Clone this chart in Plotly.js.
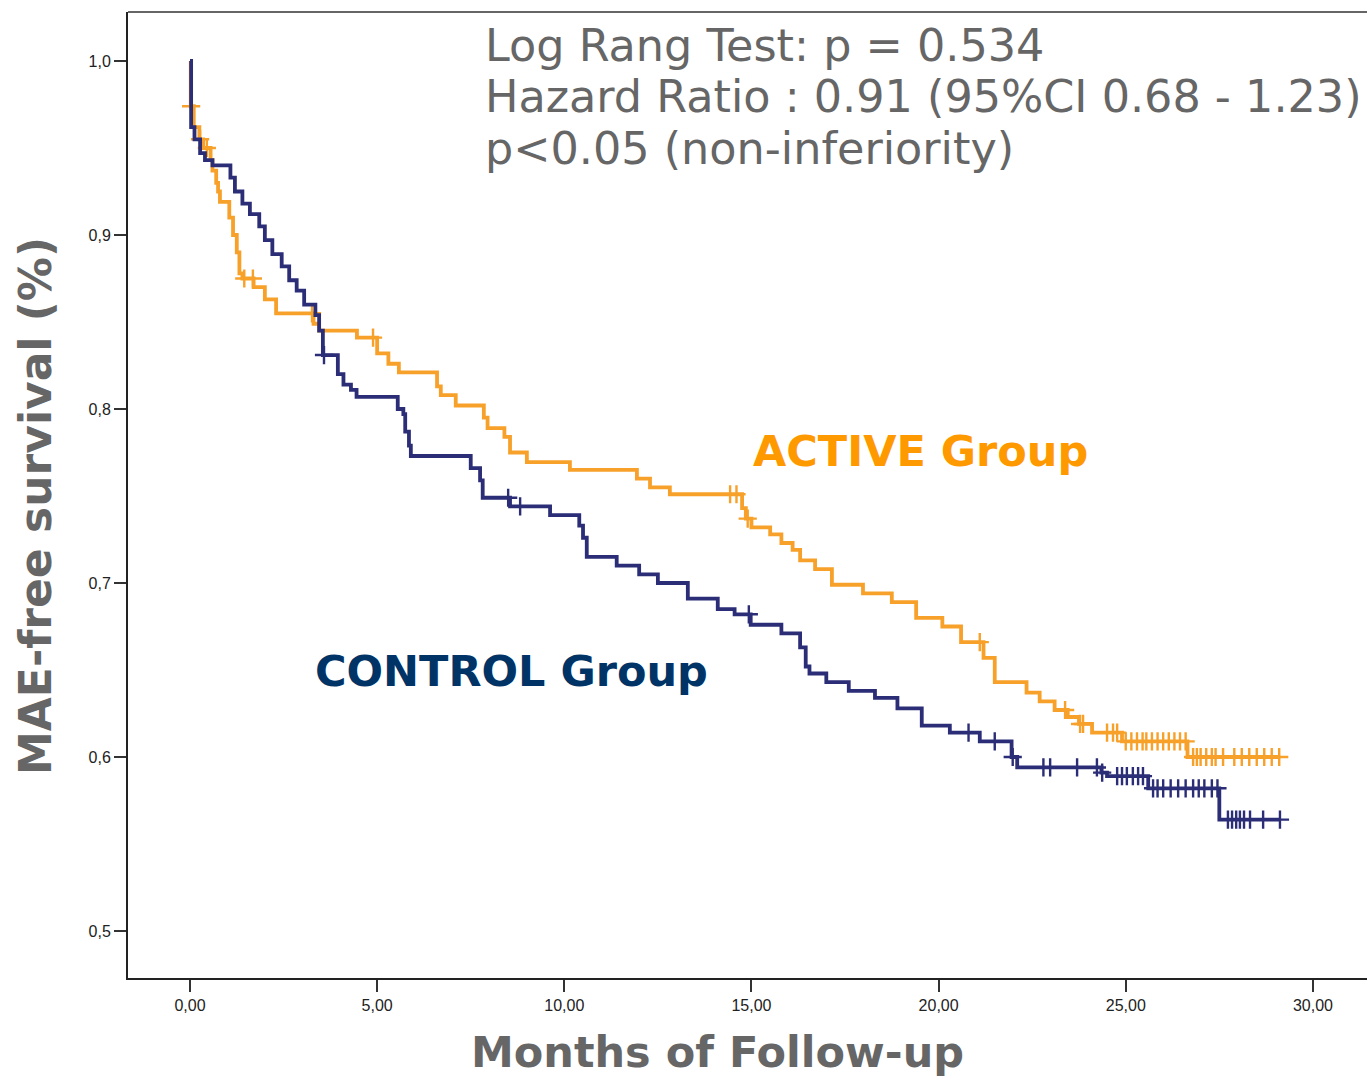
<!DOCTYPE html>
<html>
<head>
<meta charset="utf-8">
<script src="https://cdn.plot.ly/plotly-3.0.1.min.js"></script>
<style>html,body{margin:0;padding:0;background:#fff;}#chart{width:1367px;height:1078px;}</style>
</head>
<body>
<div id="chart"></div>
<script>
// Control group: step times (months) and survival after each step
const ctrlT = [0, 0.03, 0.12, 0.27, 0.4, 0.6, 1.08, 1.2, 1.4, 1.6, 1.85, 2.0, 2.2, 2.45, 2.65, 2.85, 3.05, 3.35, 3.45, 3.55, 3.95, 4.1, 4.3, 4.45, 5.55, 5.7, 5.75, 5.85, 5.9, 7.5, 7.75, 7.82, 8.55, 9.62, 10.4, 10.5, 10.6, 11.4, 12.0, 12.5, 13.3, 14.1, 14.55, 14.98, 15.8, 16.3, 16.45, 16.55, 17.0, 17.6, 18.3, 18.9, 19.55, 20.3, 21.1, 21.95, 22.1, 24.35, 24.5, 25.6, 27.5, 29.12];
const ctrlS = [1.0, 0.962, 0.955, 0.947, 0.943, 0.940, 0.933, 0.925, 0.918, 0.912, 0.905, 0.897, 0.889, 0.882, 0.874, 0.868, 0.860, 0.854, 0.845, 0.831, 0.820, 0.814, 0.811, 0.807, 0.800, 0.797, 0.787, 0.779, 0.773, 0.766, 0.759, 0.749, 0.744, 0.739, 0.733, 0.726, 0.715, 0.710, 0.705, 0.700, 0.691, 0.685, 0.682, 0.676, 0.671, 0.663, 0.652, 0.648, 0.643, 0.638, 0.634, 0.628, 0.618, 0.614, 0.609, 0.600, 0.594, 0.591, 0.589, 0.582, 0.564, 0.564];
const ctrlCens = [3.58, 8.5, 8.82, 14.93, 20.8, 21.5, 21.98, 22.8, 22.98, 23.7, 24.23, 24.37, 24.77, 24.9, 25.03, 25.19, 25.33, 25.46, 25.73, 25.85, 26.0, 26.2, 26.4, 26.6, 26.8, 26.95, 27.1, 27.3, 27.45, 27.73, 27.84, 27.95, 28.05, 28.16, 28.32, 28.67, 29.12];

// Active group
const actT = [0, 0.02, 0.1, 0.25, 0.35, 0.55, 0.6, 0.7, 0.75, 0.8, 1.05, 1.15, 1.25, 1.32, 1.4, 1.7, 2.0, 2.3, 3.3, 3.45, 4.46, 5.0, 5.3, 5.58, 6.6, 6.7, 7.1, 7.85, 7.95, 8.4, 8.55, 9.0, 10.15, 11.94, 12.29, 12.82, 14.75, 14.85, 15.0, 15.5, 15.8, 16.1, 16.3, 16.7, 17.15, 17.98, 18.75, 19.4, 20.1, 20.6, 21.2, 21.5, 22.35, 22.7, 23.1, 23.45, 23.75, 24.1, 24.9, 26.65, 29.1];
const actS = [1.0, 0.974, 0.962, 0.955, 0.950, 0.943, 0.937, 0.930, 0.925, 0.919, 0.910, 0.900, 0.890, 0.878, 0.875, 0.870, 0.863, 0.855, 0.849, 0.845, 0.841, 0.832, 0.826, 0.821, 0.813, 0.808, 0.802, 0.795, 0.789, 0.784, 0.775, 0.7695, 0.765, 0.760, 0.755, 0.751, 0.743, 0.737, 0.732, 0.728, 0.723, 0.719, 0.713, 0.708, 0.699, 0.694, 0.689, 0.680, 0.675, 0.666, 0.657, 0.643, 0.637, 0.632, 0.627, 0.623, 0.619, 0.614, 0.609, 0.600, 0.600];
const actCens = [0.03, 0.27, 0.45, 1.45, 1.68, 3.26, 4.89, 14.43, 14.6, 14.9, 21.1, 23.38, 23.78, 23.86, 24.5, 24.66, 24.77, 25.0, 25.15, 25.3, 25.45, 25.55, 25.7, 25.85, 26.0, 26.15, 26.3, 26.45, 26.6, 26.8, 26.9, 27.0, 27.15, 27.3, 27.4, 27.6, 27.9, 28.1, 28.3, 28.5, 28.7, 28.9, 29.1];

const xTickVals = [0, 5, 10, 15, 20, 25, 30];
const xTickText = ["0,00", "5,00", "10,00", "15,00", "20,00", "25,00", "30,00"];
const yTickVals = [0.5, 0.6, 0.7, 0.8, 0.9, 1.0];
const yTickText = ["0,5", "0,6", "0,7", "0,8", "0,9", "1,0"];

const statLines = ["Log Rang Test: p = 0.534", "Hazard Ratio : 0.91 (95%CI 0.68 - 1.23)", "p<0.05 (non-inferiority)"];

const NAVY = "#2b2d76";
const ORANGE = "#f7a12a";

function stepAt(T, S, t) {
  let v = S[0];
  for (let i = 0; i < T.length; i++) { if (T[i] <= t) v = S[i]; }
  return v;
}

function curve(T, S, color, name) {
  return {x: T, y: S, type: "scatter", mode: "lines", line: {shape: "hv", color: color, width: 3.8}, name: name, hoverinfo: "x+y"};
}
function cens(C, T, S, color, name) {
  return {x: C, y: C.map(t => stepAt(T, S, t)), type: "scatter", mode: "markers",
    marker: {symbol: "cross-thin", size: 13, line: {color: color, width: 2.4}, color: color}, name: name + " censored"};
}

const traces = [
  curve(actT, actS, ORANGE, "ACTIVE Group"),
  cens(actCens, actT, actS, ORANGE, "ACTIVE Group"),
  curve(ctrlT, ctrlS, NAVY, "CONTROL Group"),
  cens(ctrlCens, ctrlT, ctrlS, NAVY, "CONTROL Group")
];

const L = 128, T0 = 12, W = 1367, H = 1078, PB = 978;
const pw = W - L, ph = PB - T0;
const px = v => (v - L) / pw;
const py = v => (PB - v) / ph;

const annotations = [];
const statY = [45, 96, 148];
statLines.forEach((s, i) => annotations.push({
  text: s, xref: "paper", yref: "paper", x: px(483), y: py(statY[i]), xanchor: "left", yanchor: "middle",
  showarrow: false, font: {family: "DejaVu Sans", size: 44.5, color: "#666666"}
}));
annotations.push({text: "<b>ACTIVE Group</b>", xref: "paper", yref: "paper", x: px(920), y: py(451), xanchor: "center", yanchor: "middle",
  showarrow: false, font: {family: "DejaVu Sans", size: 43, color: "#ff9900"}});
annotations.push({text: "<b>CONTROL Group</b>", xref: "paper", yref: "paper", x: px(511), y: py(671), xanchor: "center", yanchor: "middle",
  showarrow: false, font: {family: "DejaVu Sans", size: 43, color: "#003366"}});
annotations.push({text: "<b>Months of Follow-up</b>", xref: "paper", yref: "paper", x: px(717), y: py(1052), xanchor: "center", yanchor: "middle",
  showarrow: false, font: {family: "DejaVu Sans", size: 43, color: "#666666"}});
annotations.push({text: "<b>MAE-free survival (%)</b>", xref: "paper", yref: "paper", x: px(35), y: py(506), xanchor: "center", yanchor: "middle",
  textangle: -90, showarrow: false, font: {family: "DejaVu Sans", size: 44, color: "#666666"}});

const layout = {
  width: W, height: H,
  margin: {l: L, r: 0, t: T0, b: H - PB, pad: 0},
  paper_bgcolor: "#ffffff", plot_bgcolor: "#ffffff",
  showlegend: false,
  xaxis: {range: [-62 / 37.43, 1177 / 37.43], tickvals: xTickVals, ticktext: xTickText, showgrid: false, zeroline: false,
    showline: true, linecolor: "#222222", linewidth: 2, ticks: "outside", ticklen: 12, tickwidth: 2, tickcolor: "#333333",
    tickfont: {family: "Liberation Sans", size: 16, color: "#222222"}},
  yaxis: {range: [0.5 - 47 / 1740, 1.0 + 49 / 1740], tickvals: yTickVals, ticktext: yTickText, showgrid: false, zeroline: false,
    showline: true, linecolor: "#222222", linewidth: 2, ticks: "outside", ticklen: 12, tickwidth: 2, tickcolor: "#333333",
    tickfont: {family: "Liberation Sans", size: 16, color: "#222222"}},
  shapes: [{type: "line", xref: "paper", yref: "paper", x0: 0, x1: 1, y0: 1, y1: 1, line: {color: "#666666", width: 2}}],
  annotations: annotations
};

Plotly.newPlot("chart", traces, layout, {displayModeBar: false, staticPlot: true});
</script>
</body>
</html>
